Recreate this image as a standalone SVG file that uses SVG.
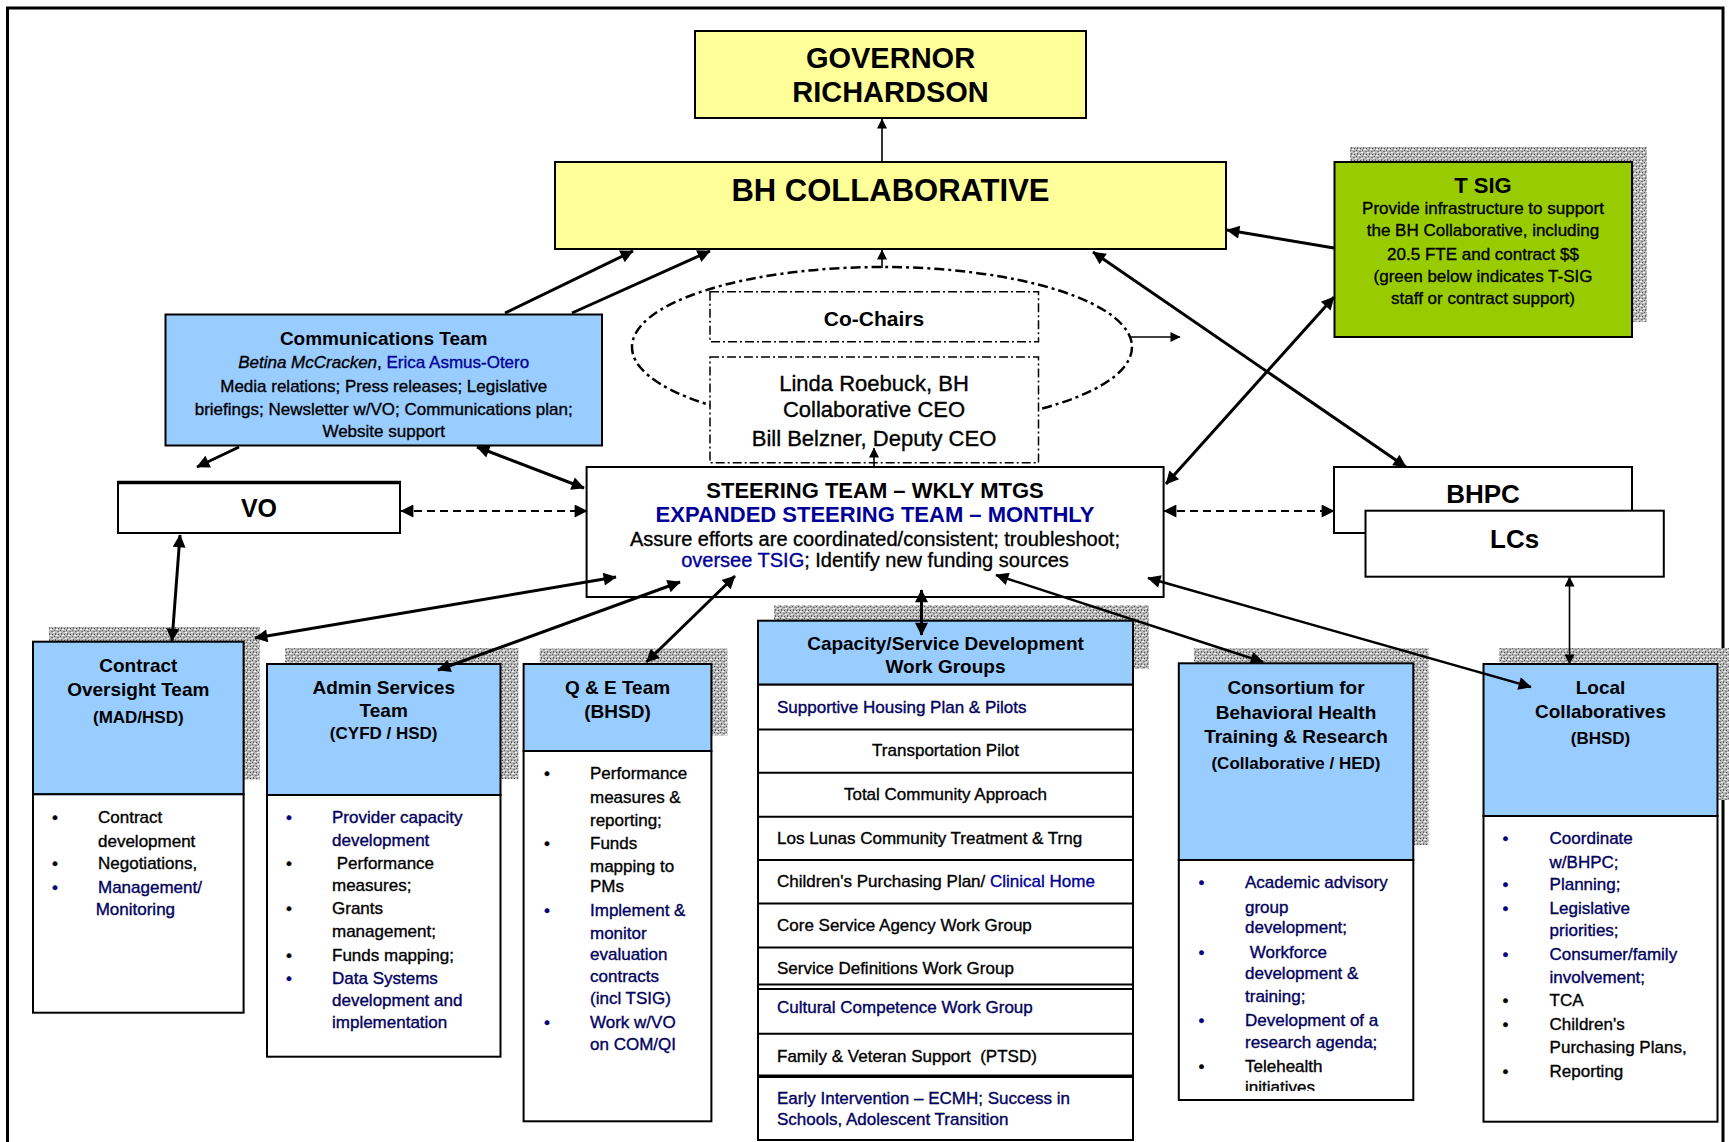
<svg xmlns="http://www.w3.org/2000/svg" width="1729" height="1142" viewBox="0 0 1729 1142">
<defs>
<style>
text{font-family:"Liberation Sans",Arial,Helvetica,sans-serif;fill:#000}
.c{text-anchor:middle}
.b{font-weight:bold}
.bl{fill:#000099;stroke:#000099;stroke-width:0.35px}
.f17{font-size:17px}
.hv text{stroke:#000;stroke-width:0.35px}
.hdr{font-size:19px;font-weight:bold;text-anchor:middle}
.sub{font-size:17px;font-weight:bold;text-anchor:middle}
.box{stroke:#000;stroke-width:2}
.yel{fill:#FFFF99}
.lb{fill:#99CCFF}
.wh{fill:#fff}
.gr{fill:#99CC00}
.sh{fill:url(#tex)}
.ln{fill:none;stroke:#000;stroke-width:3;marker-end:url(#a)}
.ln2{fill:none;stroke:#000;stroke-width:3;marker-start:url(#a);marker-end:url(#a)}
.ln2t{fill:none;stroke:#000;stroke-width:2.4;marker-start:url(#a);marker-end:url(#a)}
.dl{fill:none;stroke:#000;stroke-width:2;stroke-dasharray:8 5;marker-start:url(#a);marker-end:url(#a)}
.tl{fill:none;stroke:#000;stroke-width:1.6}
.dd{fill:#fff;stroke:#000;stroke-width:1.5;stroke-dasharray:9 3 2 3}
</style>
<pattern id="tex" width="6" height="6" patternUnits="userSpaceOnUse">
<rect width="6" height="6" fill="#b8b8b8"/>
<rect x="0" y="0" width="1" height="1" fill="#5a5a5a"/>
<rect x="3" y="1" width="2" height="1" fill="#777"/>
<rect x="1" y="3" width="1" height="2" fill="#666"/>
<rect x="4" y="4" width="1" height="1" fill="#4a4a4a"/>
<rect x="2" y="5" width="2" height="1" fill="#fff"/>
<rect x="5" y="2" width="1" height="1" fill="#fff"/>
<rect x="0" y="2" width="1" height="1" fill="#eee"/>
</pattern>
<marker id="a" viewBox="0 0 10 10" refX="9.5" refY="5" markerWidth="16" markerHeight="13" markerUnits="userSpaceOnUse" orient="auto-start-reverse"><path d="M0,0L10,5L0,10z" fill="#000"/></marker>
<marker id="s" viewBox="0 0 10 10" refX="9.5" refY="5" markerWidth="12" markerHeight="10" markerUnits="userSpaceOnUse" orient="auto-start-reverse"><path d="M0,0L10,5L0,10z" fill="#000"/></marker>
<clipPath id="clipCons"><rect x="1170" y="860" width="250" height="231"/></clipPath>
</defs>

<rect x="0" y="0" width="1729" height="1142" fill="#fff"/>
<g id="frame"><rect x="7.5" y="8" width="1715.5" height="1150" fill="none" stroke="#000" stroke-width="3"/></g>

<g id="governor">
<rect x="695" y="31" width="391" height="87" class="box yel"/>
<text x="890.5" y="68" class="c b" font-size="29">GOVERNOR</text>
<text x="890.5" y="102" class="c b" font-size="29">RICHARDSON</text>
</g>

<g id="bh-collaborative">
<rect x="555" y="162" width="671" height="87" class="box yel"/>
<text x="890.5" y="201" class="c b" font-size="31">BH COLLABORATIVE</text>
</g>

<g id="tsig">
<rect x="1350" y="147" width="297" height="175" class="sh"/>
<rect x="1334.5" y="162" width="297.5" height="175" class="box gr"/>
<text x="1483" y="193" class="c b" font-size="22">T SIG</text>
<g class="hv c f17">
<text x="1483" y="214">Provide infrastructure to support</text>
<text x="1483" y="236">the BH Collaborative, including</text>
<text x="1483" y="260">20.5 FTE and contract $$</text>
<text x="1483" y="282">(green below indicates T-SIG</text>
<text x="1483" y="304">staff or contract support)</text>
</g>
</g>

<g id="communications-team">
<rect x="165.5" y="314.5" width="436.5" height="131" class="box lb"/>
<text x="383.7" y="345" class="hdr">Communications Team</text>
<g class="hv c f17">
<text x="383.7" y="368.3"><tspan font-style="italic">Betina McCracken</tspan>, <tspan class="bl">Erica Asmus-Otero</tspan></text>
<text x="383.7" y="391.7">Media relations; Press releases; Legislative</text>
<text x="383.7" y="415">briefings; Newsletter w/VO; Communications plan;</text>
<text x="383.7" y="437">Website support</text>
</g>
</g>

<g id="co-chairs">
<ellipse cx="882" cy="347" rx="250" ry="80" fill="none" stroke="#000" stroke-width="2.5" stroke-dasharray="10 4 3 4"/>
<rect x="710" y="291.7" width="328.5" height="50" class="dd"/>
<text x="874" y="326" class="c b" font-size="21">Co-Chairs</text>
</g>

<g id="ceo">
<rect x="710" y="357" width="328.5" height="105.7" class="dd"/>
<g class="hv c" font-size="22">
<text x="874" y="391.3">Linda Roebuck, BH</text>
<text x="874" y="417.3">Collaborative CEO</text>
<text x="874" y="446.3">Bill Belzner, Deputy CEO</text>
</g>
</g>

<g id="vo">
<rect x="118" y="482" width="282" height="51" class="box wh"/>
<line x1="117" y1="482.5" x2="401" y2="482.5" stroke="#000" stroke-width="3.5"/>
<text x="259" y="517" class="c b" font-size="25">VO</text>
</g>

<g id="steering-team">
<rect x="586.6" y="467" width="577" height="130" class="box wh"/>
<text x="875" y="497.5" class="c b" font-size="22">STEERING TEAM – WKLY MTGS</text>
<text x="875" y="521.5" class="c b" font-size="22" style="fill:#000099">EXPANDED STEERING TEAM – MONTHLY</text>
<g class="hv c" font-size="20">
<text x="875" y="546">Assure efforts are coordinated/consistent; troubleshoot;</text>
<text x="875" y="566.5"><tspan class="bl">oversee TSIG</tspan>; Identify new funding sources</text>
</g>
</g>

<g id="bhpc">
<rect x="1334" y="467" width="298" height="66" class="box wh"/>
<text x="1483" y="502.5" class="c b" font-size="26">BHPC</text>
</g>

<g id="lcs">
<rect x="1365.5" y="510.7" width="298.3" height="66" class="box wh"/>
<text x="1514.6" y="547.5" class="c b" font-size="26">LCs</text>
</g>

<g id="contract-oversight">
<rect x="49" y="627" width="210.6" height="152.6" class="sh"/>
<rect x="33" y="641.7" width="210.6" height="152.6" class="box lb"/>
<rect x="33" y="794.3" width="210.6" height="218.4" class="box wh"/>
<text x="138.3" y="672" class="hdr">Contract</text>
<text x="138.3" y="696" class="hdr">Oversight Team</text>
<text x="138.3" y="722.5" class="sub">(MAD/HSD)</text>
<g class="hv f17">
<text x="52" y="822.7">•</text><text x="98" y="822.7">Contract</text>
<text x="98" y="846.7">development</text>
<text x="52" y="869.3">•</text><text x="98" y="869.3">Negotiations,</text>
<text x="52" y="892.7" class="bl">•</text><text x="98" y="892.7" class="bl">Management/</text>
<text x="95.7" y="915.3" class="bl">Monitoring</text>
</g>
</g>

<g id="admin-services">
<rect x="285" y="648" width="233.5" height="131" class="sh"/>
<rect x="267" y="664" width="233.5" height="131" class="box lb"/>
<rect x="267" y="795" width="233.5" height="261.7" class="box wh"/>
<text x="383.7" y="694" class="hdr">Admin Services</text>
<text x="383.7" y="717" class="hdr">Team</text>
<text x="383.7" y="739" class="sub">(CYFD / HSD)</text>
<g class="hv f17">
<text x="286" y="822.7" class="bl">•</text><text x="332" y="822.7" class="bl">Provider capacity</text>
<text x="332" y="846" class="bl">development</text>
<text x="286" y="868.7">•</text><text x="332" y="868.7" xml:space="preserve"> Performance</text>
<text x="332" y="891">measures;</text>
<text x="286" y="914.3">•</text><text x="332" y="914.3">Grants</text>
<text x="332" y="936.7">management;</text>
<text x="286" y="961">•</text><text x="332" y="961">Funds mapping;</text>
<text x="286" y="984.3" class="bl">•</text><text x="332" y="984.3" class="bl">Data Systems</text>
<text x="332" y="1006" class="bl">development and</text>
<text x="332" y="1028.3" class="bl">implementation</text>
</g>
</g>

<g id="qe-team">
<rect x="539.6" y="648.5" width="187.8" height="87" class="sh"/>
<rect x="523.6" y="664" width="187.8" height="87" class="box lb"/>
<rect x="523.6" y="751" width="187.8" height="370.3" class="box wh"/>
<text x="617.5" y="694" class="hdr">Q &amp; E Team</text>
<text x="617.5" y="718" class="hdr">(BHSD)</text>
<g class="hv f17">
<text x="544" y="778.8">•</text><text x="590" y="778.8">Performance</text>
<text x="590" y="803">measures &amp;</text>
<text x="590" y="825.5">reporting;</text>
<text x="544" y="848.7">•</text><text x="590" y="848.7">Funds</text>
<text x="590" y="871.5">mapping to</text>
<text x="590" y="892.2">PMs</text>
<text x="544" y="916.4" class="bl">•</text><text x="590" y="916.4" class="bl">Implement &amp;</text>
<text x="590" y="938.5" class="bl">monitor</text>
<text x="590" y="960.3" class="bl">evaluation</text>
<text x="590" y="982" class="bl">contracts</text>
<text x="590" y="1003.5" class="bl">(incl TSIG)</text>
<text x="544" y="1028.4" class="bl">•</text><text x="590" y="1028.4" class="bl">Work w/VO</text>
<text x="590" y="1050.2" class="bl">on COM/QI</text>
</g>
</g>

<g id="capacity-work-groups">
<rect x="774" y="605" width="375" height="64" class="sh"/>
<rect x="758" y="620.7" width="375" height="64" class="box lb"/>
<rect x="758" y="684.7" width="375" height="455.3" class="box wh"/>
<g stroke="#000" stroke-width="2">
<line x1="758" y1="729.6" x2="1133" y2="729.6"/>
<line x1="758" y1="772.8" x2="1133" y2="772.8"/>
<line x1="758" y1="816.7" x2="1133" y2="816.7"/>
<line x1="758" y1="859.9" x2="1133" y2="859.9"/>
<line x1="758" y1="903.5" x2="1133" y2="903.5"/>
<line x1="758" y1="947.4" x2="1133" y2="947.4"/>
<line x1="758" y1="984.4" x2="1133" y2="984.4"/>
<line x1="758" y1="988.9" x2="1133" y2="988.9"/>
<line x1="758" y1="1033.8" x2="1133" y2="1033.8"/>
<line x1="758" y1="1076.3" x2="1133" y2="1076.3" stroke-width="3.5"/>
</g>
<text x="945.5" y="650" class="hdr">Capacity/Service Development</text>
<text x="945.5" y="673" class="hdr">Work Groups</text>
<g class="hv f17">
<text x="777" y="713.2" class="bl">Supportive Housing Plan &amp; Pilots</text>
<text x="945.5" y="756.4" class="c">Transportation Pilot</text>
<text x="945.5" y="799.6" class="c">Total Community Approach</text>
<text x="777" y="843.8">Los Lunas Community Treatment &amp; Trng</text>
<text x="777" y="886.7">Children's Purchasing Plan/ <tspan class="bl">Clinical Home</tspan></text>
<text x="777" y="931">Core Service Agency Work Group</text>
<text x="777" y="974.1">Service Definitions Work Group</text>
<text x="777" y="1013.2" class="bl">Cultural Competence Work Group</text>
<text x="777" y="1062.3" xml:space="preserve">Family &amp; Veteran Support  (PTSD)</text>
<text x="777" y="1103.8" class="bl">Early Intervention – ECMH; Success in</text>
<text x="777" y="1124.5" class="bl">Schools, Adolescent Transition</text>
</g>
</g>

<g id="consortium">
<rect x="1194" y="648.3" width="234.5" height="196.7" class="sh"/>
<rect x="1178.8" y="663.3" width="234.5" height="196.7" class="box lb"/>
<rect x="1178.8" y="860" width="234.5" height="240" class="box wh"/>
<text x="1296" y="693.5" class="hdr">Consortium for</text>
<text x="1296" y="718.5" class="hdr">Behavioral Health</text>
<text x="1296" y="742.5" class="hdr">Training &amp; Research</text>
<text x="1296" y="769.3" class="sub">(Collaborative / HED)</text>
<g class="hv f17">
<text x="1198.5" y="887.7" class="bl">•</text><text x="1245" y="887.7" class="bl">Academic advisory</text>
<text x="1245" y="912.7" class="bl">group</text>
<text x="1245" y="933.3" class="bl">development;</text>
<text x="1198.5" y="957.7" class="bl">•</text><text x="1245" y="957.7" class="bl" xml:space="preserve"> Workforce</text>
<text x="1245" y="979.3" class="bl">development &amp;</text>
<text x="1245" y="1002" class="bl">training;</text>
<text x="1198.5" y="1026" class="bl">•</text><text x="1245" y="1026" class="bl">Development of a</text>
<text x="1245" y="1047.7" class="bl">research agenda;</text>
<text x="1198.5" y="1072">•</text><text x="1245" y="1072">Telehealth</text>
<text x="1245" y="1092.7" clip-path="url(#clipCons)">initiatives</text>
</g>
</g>

<g id="local-collaboratives">
<rect x="1499" y="648" width="234" height="152" class="sh"/>
<rect x="1483.5" y="664" width="234" height="152" class="box lb"/>
<rect x="1483.5" y="816" width="234" height="305.7" class="box wh"/>
<text x="1600.5" y="693.5" class="hdr">Local</text>
<text x="1600.5" y="717.5" class="hdr">Collaboratives</text>
<text x="1600.5" y="744.3" class="sub">(BHSD)</text>
<g class="hv f17">
<text x="1502.5" y="844.3" class="bl">•</text><text x="1549.6" y="844.3" class="bl">Coordinate</text>
<text x="1549.6" y="867.7" class="bl">w/BHPC;</text>
<text x="1502.5" y="890.3" class="bl">•</text><text x="1549.6" y="890.3" class="bl">Planning;</text>
<text x="1502.5" y="914.3" class="bl">•</text><text x="1549.6" y="914.3" class="bl">Legislative</text>
<text x="1549.6" y="936" class="bl">priorities;</text>
<text x="1502.5" y="960" class="bl">•</text><text x="1549.6" y="960" class="bl">Consumer/family</text>
<text x="1549.6" y="982.7" class="bl">involvement;</text>
<text x="1502.5" y="1006">•</text><text x="1549.6" y="1006">TCA</text>
<text x="1502.5" y="1030.3">•</text><text x="1549.6" y="1030.3">Children's</text>
<text x="1549.6" y="1053.3">Purchasing Plans,</text>
<text x="1502.5" y="1076.7">•</text><text x="1549.6" y="1076.7">Reporting</text>
</g>
</g>

<g id="connectors">
<line x1="882" y1="162" x2="882" y2="119" class="tl" marker-end="url(#s)"/>
<line x1="882" y1="268" x2="882" y2="250" class="tl" marker-end="url(#s)"/>
<line x1="1131" y1="337" x2="1180" y2="337" class="tl" marker-end="url(#s)"/>
<line x1="874" y1="467" x2="874" y2="448" class="tl" marker-end="url(#s)"/>
<line x1="505" y1="313" x2="633" y2="251" class="ln"/>
<line x1="572" y1="313" x2="710" y2="251" class="ln"/>
<line x1="239" y1="447" x2="197" y2="467" class="ln"/>
<line x1="477" y1="447" x2="584" y2="488" class="ln2"/>
<line x1="401" y1="511" x2="587" y2="511" class="dl"/>
<line x1="1164" y1="511" x2="1334" y2="511" class="dl"/>
<line x1="1334" y1="248" x2="1227" y2="230" class="ln"/>
<line x1="1334" y1="297" x2="1166" y2="484" class="ln2"/>
<line x1="1093" y1="252" x2="1406" y2="467" class="ln2"/>
<line x1="180" y1="535" x2="172" y2="641" class="ln2"/>
<line x1="255" y1="638" x2="616" y2="577" class="ln2"/>
<line x1="438" y1="670" x2="680" y2="582" class="ln2"/>
<line x1="646.5" y1="662" x2="735" y2="576" class="ln2"/>
<line x1="921.5" y1="590" x2="921.5" y2="635" class="ln2"/>
<line x1="996" y1="575" x2="1263" y2="662" class="ln2t"/>
<line x1="1148" y1="578" x2="1531" y2="687" class="ln2t"/>
<line x1="1569.5" y1="577" x2="1569.5" y2="664" class="tl" marker-start="url(#s)" marker-end="url(#s)"/>
</g>
</svg>
